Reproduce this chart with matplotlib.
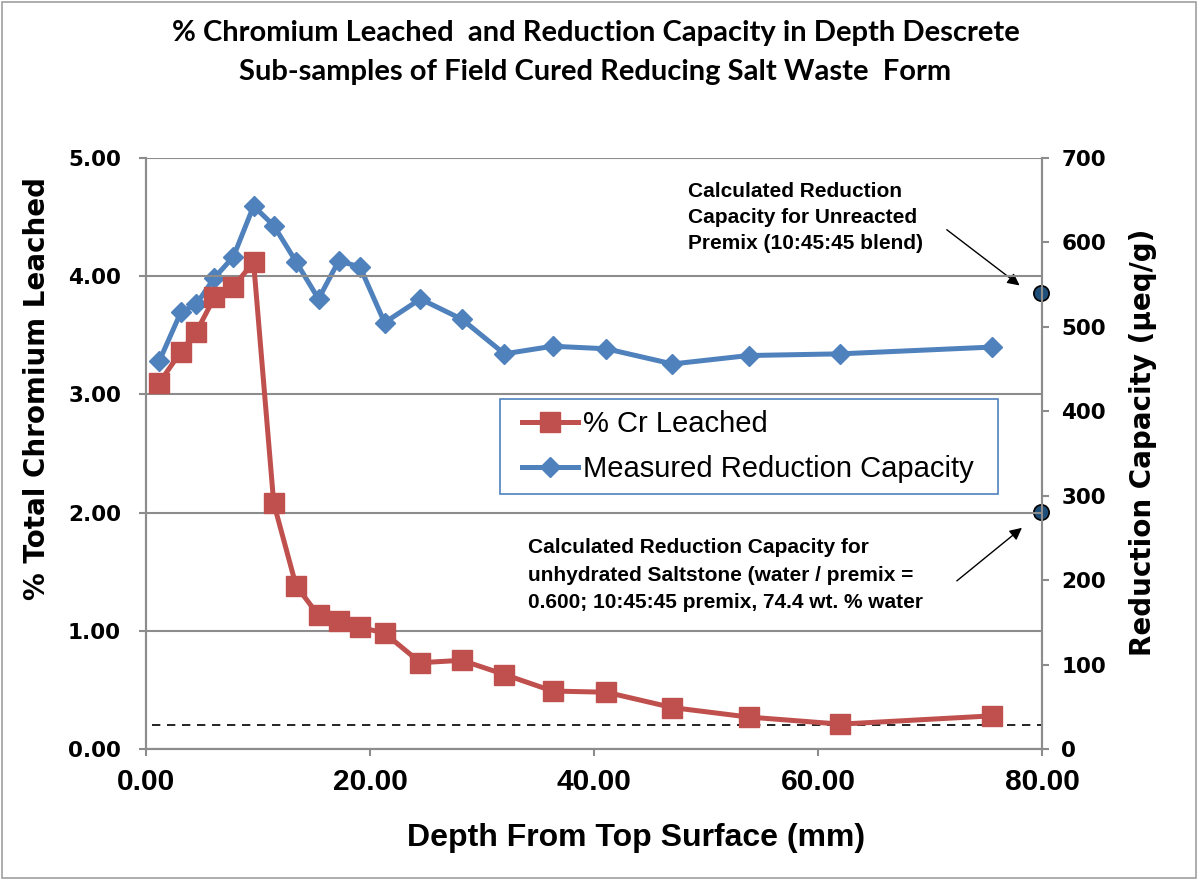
import numpy as np
import matplotlib.pyplot as plt

depth = [1.2, 3.1, 4.5, 6.1, 7.8, 9.6, 11.4, 13.4, 15.4, 17.2, 19.1, 21.3,
         24.5, 28.2, 32.0, 36.3, 41.1, 47.0, 53.8, 62.0, 75.5]
cr_leached = [3.10, 3.36, 3.53, 3.82, 3.91, 4.12, 2.08, 1.38, 1.13, 1.08, 1.03, 0.98,
              0.73, 0.75, 0.63, 0.49, 0.48, 0.35, 0.27, 0.21, 0.28]
red_cap = [460, 517, 527, 558, 583, 643, 620, 577, 533, 578, 571, 505,
           533, 509, 468, 477, 474, 456, 466, 468, 476]
calc_x = [79.9, 79.9]
calc_rc = [540, 281]
dash_level = 0.20

red = "#C0504D"
blue = "#4F81BD"
grid = "#8C8C8C"

fig = plt.figure(figsize=(11.98, 8.8), dpi=100)
fig.patches.append(plt.Rectangle((0.002, 0.002), 0.996, 0.996, transform=fig.transFigure,
                                 fill=False, edgecolor="#A0A0A0", lw=1.2))
ax = fig.add_axes([0.1219, 0.1489, 0.7479, 0.6716])
ax2 = ax.twinx()

ax.set_xlim(0, 80)
ax.set_ylim(0, 5)
ax2.set_ylim(0, 700)

ax.set_yticks(np.arange(0, 5.01, 1.0))
ax.set_yticklabels(["%.2f" % v for v in np.arange(0, 5.01, 1.0)])
ax.set_xticks([0, 20, 40, 60, 80])
ax.set_xticklabels(["%.2f" % v for v in [0, 20, 40, 60, 80]])
ax2.set_yticks(range(0, 701, 100))
ax.yaxis.grid(True, color=grid, lw=1.5)
ax.set_axisbelow(True)

for a in (ax, ax2):
    for s in a.spines.values():
        s.set_color(grid)
        s.set_linewidth(1.5)
    a.tick_params(colors=grid, width=1.5, length=5, labelcolor="black")
ax.spines["top"].set_visible(False)
ax2.spines["top"].set_visible(False)
ax.tick_params(axis="y", pad=13)
ax.tick_params(axis="x", pad=9)
ax2.tick_params(axis="y", pad=9)
for lab in ax.get_yticklabels() + ax2.get_yticklabels():
    lab.set_fontfamily("DejaVu Sans")
    lab.set_fontweight("bold")
    lab.set_fontsize(15.5)
for lab in ax.get_xticklabels():
    lab.set_fontfamily("Liberation Sans")
    lab.set_fontweight("bold")
    lab.set_fontsize(21.5)

ax.axhline(dash_level, xmin=0.007, xmax=1, color="black", lw=1.2, ls=(0, (5, 4)))

l1, = ax.plot(depth, cr_leached, color=red, lw=3.6, marker="s", ms=14, label="% Cr Leached")
l2, = ax2.plot(depth, red_cap, color=blue, lw=3.6, marker="D", ms=10.5,
               label="Measured Reduction Capacity")
ax2.plot(calc_x, calc_rc, ls="none", marker="o", ms=11, mfc="#1F4E79", mec="black",
         mew=1.2, clip_on=False, zorder=5)
ax.set_zorder(ax2.get_zorder() + 1)
ax.patch.set_visible(False)

# legend box drawn separately so the padding matches
ax.add_patch(plt.Rectangle((0.3951, 0.4315), 0.5558, 0.1607, transform=ax.transAxes,
                           facecolor="white", edgecolor=blue, lw=1.2, zorder=4))
leg = ax.legend([l1, l2], ["% Cr Leached", "Measured Reduction Capacity"],
                loc="upper left", bbox_to_anchor=(0.4196, 0.5736), borderaxespad=0,
                prop={"family": "Liberation Sans", "size": 21}, frameon=False,
                handlelength=1.92, handletextpad=0.17, borderpad=0, labelspacing=0.6)
leg.set_zorder(6)

fig.text(636 / 1198, 1 - 838 / 880, "Depth From Top Surface (mm)", ha="center", va="center",
         fontfamily="Liberation Sans", fontweight="bold", fontsize=23)
fig.text(37 / 1198, 1 - 388 / 880, "% Total Chromium Leached", ha="center", va="center",
         rotation=90, fontfamily="DejaVu Sans", fontweight="bold", fontsize=20)
fig.text(1143 / 1198, 1 - 442 / 880, "Reduction Capacity (μeq/g)", ha="center", va="center",
         rotation=90, fontfamily="DejaVu Sans", fontweight="bold", fontsize=20)

fig.text(0.497, 0.9625, "% Chromium Leached  and Reduction Capacity in Depth Descrete",
         ha="center", va="center", fontfamily="Lato", fontweight="bold", fontsize=21)
fig.text(0.497, 0.918, "Sub-samples of Field Cured Reducing Salt Waste  Form",
         ha="center", va="center", fontfamily="Lato", fontweight="bold", fontsize=21)

ax2.annotate("", xy=(78.2, 547), xytext=(71.3, 617),
             arrowprops=dict(arrowstyle="-|>", color="black", lw=1, mutation_scale=18))
ax2.text(48.4, 629, "Calculated Reduction\nCapacity for Unreacted\nPremix (10:45:45 blend)",
         ha="left", va="center", fontfamily="Liberation Sans", fontweight="bold",
         fontsize=15, linespacing=1.47)
ax2.annotate("", xy=(78.4, 264), xytext=(72.2, 197),
             arrowprops=dict(arrowstyle="-|>", color="black", lw=1, mutation_scale=18))
ax2.text(34.1, 206, "Calculated Reduction Capacity for\nunhydrated Saltstone (water / premix =\n"
         "0.600; 10:45:45 premix, 74.4 wt. % water",
         ha="left", va="center", fontfamily="Liberation Sans", fontweight="bold",
         fontsize=15, linespacing=1.55)

fig.savefig("out.png", dpi=100)
